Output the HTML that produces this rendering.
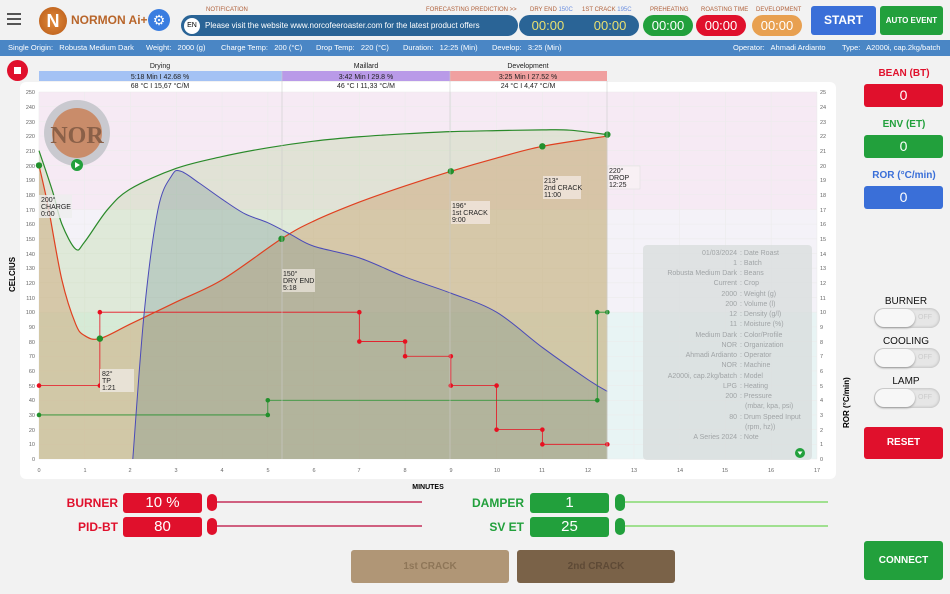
<!DOCTYPE html>
<html><head><meta charset="utf-8">
<style>
*{box-sizing:border-box;margin:0;padding:0}
body{width:950px;height:594px;overflow:hidden;background:#f2f2f2;font-family:"Liberation Sans",sans-serif;position:relative}
.a{position:absolute}
.pill{position:absolute;border-radius:12px;color:#fff;text-align:center}
.lbl{position:absolute;font-size:6px;color:#b0603a;text-align:center}
.box{position:absolute;border-radius:3px;color:#fff;text-align:center}
.tog{position:absolute;width:66px;height:20px;border-radius:10px;background:#e6e6e6;box-shadow:inset 0 0 3px #aaa}
.tog:before{content:"";position:absolute;left:1px;top:1px;width:40px;height:18px;border-radius:9px;background:#f7f7f7;box-shadow:0 1px 2px #999}
.tog:after{content:"OFF";position:absolute;right:8px;top:6px;font-size:7px;color:#ccc}
.rt{position:absolute;font-size:10px;color:#111;text-align:center;width:80px;left:866px}
.ib{position:absolute;top:40px;color:#fff;font-size:7.5px;line-height:16px;white-space:pre}
</style></head><body>
<!-- top bar -->
<div class="a" style="left:7px;top:13px;width:14px;height:2px;background:#555;box-shadow:0 5px 0 #555,0 10px 0 #555"></div>
<div class="a" style="left:39px;top:7px;width:28px;height:28px;border-radius:50%;background:radial-gradient(#e08a3a,#b85a18);color:#fff;font-weight:bold;font-size:18px;text-align:center;line-height:28px">N</div>
<div class="a" style="left:71px;top:13px;font-size:12px;font-weight:bold;color:#b8652a">NORMON Ai+</div>
<div class="a" style="left:148px;top:9px;width:22px;height:22px;border-radius:50%;background:#3a7de0;color:#fff;font-size:14px;text-align:center;line-height:22px">⚙</div>
<div class="lbl" style="left:206px;top:7px">NOTIFICATION</div>
<div class="lbl" style="left:426px;top:7px">FORECASTING PREDICTION &gt;&gt;</div>
<div class="lbl" style="left:530px;top:7px">DRY END <span style="color:#6a8ee0">150C</span></div>
<div class="lbl" style="left:582px;top:7px">1ST CRACK <span style="color:#6a8ee0">195C</span></div>
<div class="lbl" style="left:650px;top:7px">PREHEATING</div>
<div class="lbl" style="left:701px;top:7px">ROASTING TIME</div>
<div class="lbl" style="left:756px;top:7px">DEVELOPMENT</div>
<div class="pill" style="left:181px;top:15px;width:337px;height:21px;background:#2a6496;text-align:left;font-size:8px;line-height:21px;padding-left:24px">Please visit the website www.norcofeeroaster.com for the latest product offers</div>
<div class="a" style="left:184px;top:18px;width:16px;height:16px;border-radius:50%;background:#fff;font-size:7px;text-align:center;line-height:16px">EN</div>
<div class="pill" style="left:519px;top:15px;width:120px;height:21px;background:#2a6496;color:#e8e070;font-size:13px;line-height:21px;word-spacing:26px">00:00 00:00</div>
<div class="pill" style="left:643px;top:15px;width:50px;height:21px;background:#22a03c;font-size:13px;line-height:21px">00:00</div>
<div class="pill" style="left:696px;top:15px;width:50px;height:21px;background:#e0102c;font-size:13px;line-height:21px">00:00</div>
<div class="pill" style="left:752px;top:15px;width:50px;height:21px;background:#e8a050;font-size:13px;line-height:21px">00:00</div>
<div class="box" style="left:811px;top:6px;width:65px;height:29px;background:#3a6fd8;font-weight:bold;font-size:12px;line-height:29px">START</div>
<div class="box" style="left:880px;top:6px;width:63px;height:29px;background:#22a03c;font-weight:bold;font-size:8px;line-height:29px">AUTO EVENT</div>
<!-- info bar -->
<div class="a" style="left:0;top:40px;width:950px;height:16px;background:#4a86c5"></div>
<div class="ib" style="left:8px">Single Origin:   Robusta Medium Dark</div>
<div class="ib" style="left:146px">Weight:   2000 (g)</div>
<div class="ib" style="left:221px">Charge Temp:   200 (°C)</div>
<div class="ib" style="left:316px">Drop Temp:   220 (°C)</div>
<div class="ib" style="left:403px">Duration:   12:25 (Min)</div>
<div class="ib" style="left:492px">Develop:   3:25 (Min)</div>
<div class="ib" style="left:733px">Operator:   Ahmadi Ardianto</div>
<div class="ib" style="left:842px">Type:   A2000i, cap.2kg/batch</div>
<!-- stop -->
<div class="a" style="left:7px;top:60px;width:21px;height:21px;border-radius:50%;background:#e0102c"><div class="a" style="left:7px;top:7px;width:7px;height:7px;background:#fff"></div></div>
<!-- chart card -->
<div class="a" style="left:20px;top:82px;width:816px;height:397px;background:#fff;border-radius:6px"></div>
<svg class="a" style="left:0;top:0" width="950" height="594" font-family="Liberation Sans,sans-serif">
<g font-size="7" text-anchor="middle" fill="#222">
<text x="160" y="68">Drying</text><text x="366" y="68">Maillard</text><text x="528" y="68">Development</text></g>
<rect x="39" y="71" width="243" height="10" fill="#a4c2f4"/>
<rect x="282" y="71" width="168" height="10" fill="#b99ae8"/>
<rect x="450" y="71" width="157" height="10" fill="#f0a0a0"/>
<g font-size="7" text-anchor="middle" fill="#222">
<text x="160" y="79">5:18 Min  I  42.68 %</text><text x="366" y="79">3:42 Min  I  29.8 %</text><text x="528" y="79">3:25 Min  I  27.52 %</text>
<text x="160" y="88">68 °C  I  15,67 °C/M</text><text x="366" y="88">46 °C  I  11,33 °C/M</text><text x="528" y="88">24 °C  I  4,47 °C/M</text></g>
<rect x="39" y="92" width="778" height="118" fill="#f6eaf4"/>
<rect x="39" y="210" width="778" height="102" fill="#f4f2f8"/>
<rect x="39" y="312" width="778" height="147" fill="#e8f4f4"/>
<g stroke="#ececec" stroke-width="0.6" id="grid"></g>
<g id="plot"></g>
<line x1="282" y1="71" x2="282" y2="459" stroke="#ccc" stroke-width="0.6"/>
<line x1="450" y1="71" x2="450" y2="459" stroke="#ccc" stroke-width="0.6"/>
<line x1="607" y1="81" x2="607" y2="459" stroke="#ccc" stroke-width="0.6"/>
<g font-size="5.5" fill="#666" text-anchor="end">
<text x="35" y="461">0</text><text x="35" y="446">10</text><text x="35" y="432">20</text><text x="35" y="417">30</text><text x="35" y="402">40</text><text x="35" y="388">50</text><text x="35" y="373">60</text><text x="35" y="358">70</text><text x="35" y="344">80</text><text x="35" y="329">90</text><text x="35" y="314">100</text><text x="35" y="300">110</text><text x="35" y="285">120</text><text x="35" y="270">130</text><text x="35" y="256">140</text><text x="35" y="241">150</text><text x="35" y="226">160</text><text x="35" y="212">170</text><text x="35" y="197">180</text><text x="35" y="182">190</text><text x="35" y="168">200</text><text x="35" y="153">210</text><text x="35" y="138">220</text><text x="35" y="124">230</text><text x="35" y="109">240</text><text x="35" y="94">250</text></g>
<g font-size="5.5" fill="#666">
<text x="820" y="461">0</text><text x="820" y="446">1</text><text x="820" y="432">2</text><text x="820" y="417">3</text><text x="820" y="402">4</text><text x="820" y="388">5</text><text x="820" y="373">6</text><text x="820" y="358">7</text><text x="820" y="344">8</text><text x="820" y="329">9</text><text x="820" y="314">10</text><text x="820" y="300">11</text><text x="820" y="285">12</text><text x="820" y="270">13</text><text x="820" y="256">14</text><text x="820" y="241">15</text><text x="820" y="226">16</text><text x="820" y="212">17</text><text x="820" y="197">18</text><text x="820" y="182">19</text><text x="820" y="168">20</text><text x="820" y="153">21</text><text x="820" y="138">22</text><text x="820" y="124">23</text><text x="820" y="109">24</text><text x="820" y="94">25</text></g>
<g font-size="5.5" fill="#666" text-anchor="middle">
<text x="39" y="472">0</text><text x="85" y="472">1</text><text x="130" y="472">2</text><text x="176" y="472">3</text><text x="222" y="472">4</text><text x="268" y="472">5</text><text x="314" y="472">6</text><text x="359" y="472">7</text><text x="405" y="472">8</text><text x="451" y="472">9</text><text x="497" y="472">10</text><text x="542" y="472">11</text><text x="588" y="472">12</text><text x="634" y="472">13</text><text x="680" y="472">14</text><text x="725" y="472">15</text><text x="771" y="472">16</text><text x="817" y="472">17</text></g>
<circle cx="77" cy="133" r="33" fill="#c9c9cf"/><circle cx="77" cy="133" r="25" fill="#c98c6a"/>
<text x="77" y="143" font-size="24" font-weight="bold" fill="#8a6048" text-anchor="middle" font-family="Liberation Serif,serif">NOR</text>
<circle cx="77" cy="165" r="6" fill="#22a03c"/><path d="M75 162 L80 165 L75 168Z" fill="#fff"/>
<g font-size="7" fill="#222">
<rect x="39" y="195" width="33" height="23" fill="#eee" opacity="0.8"/><text x="41" y="202">200°</text><text x="41" y="209">CHARGE</text><text x="41" y="216">0:00</text>
<rect x="100" y="369" width="34" height="23" fill="#e8e2d6"/><text x="102" y="376">82°</text><text x="102" y="383">TP</text><text x="102" y="390">1:21</text>
<rect x="282" y="269" width="33" height="23" fill="#ddd8cc"/><text x="283" y="276">150°</text><text x="283" y="283">DRY END</text><text x="283" y="290">5:18</text>
<rect x="451" y="201" width="39" height="23" fill="#ece0d4"/><text x="452" y="208">196°</text><text x="452" y="215">1st CRACK</text><text x="452" y="222">9:00</text>
<rect x="543" y="176" width="38" height="23" fill="#ece0d4"/><text x="544" y="183">213°</text><text x="544" y="190">2nd CRACK</text><text x="544" y="197">11:00</text>
<rect x="608" y="166" width="32" height="23" fill="#f8f0f4" stroke="#ddd" stroke-width="0.5"/><text x="609" y="173">220°</text><text x="609" y="180">DROP</text><text x="609" y="187">12:25</text></g>
<rect x="643" y="245" width="169" height="215" rx="4" fill="#d8dcdc" opacity="0.75"/>
<g font-size="7" fill="#a0a4a6">
<g text-anchor="end">
<text x="737" y="255">01/03/2024</text><text x="737" y="265">1</text><text x="737" y="275">Robusta Medium Dark</text><text x="737" y="285">Current</text><text x="737" y="296">2000</text><text x="737" y="306">200</text><text x="737" y="316">12</text><text x="737" y="326">11</text><text x="737" y="337">Medium Dark</text><text x="737" y="347">NOR</text><text x="737" y="357">Ahmadi Ardianto</text><text x="737" y="367">NOR</text><text x="737" y="378">A2000i, cap.2kg/batch</text><text x="737" y="388">LPG</text><text x="737" y="398">200</text><text x="737" y="419">80</text><text x="737" y="439">A Series 2024</text></g>
<text x="740" y="255">:  Date Roast</text><text x="740" y="265">:  Batch</text><text x="740" y="275">:  Beans</text><text x="740" y="285">:  Crop</text><text x="740" y="296">:  Weight (g)</text><text x="740" y="306">:  Volume (l)</text><text x="740" y="316">:  Density (g/l)</text><text x="740" y="326">:  Moisture (%)</text><text x="740" y="337">:  Color/Profile</text><text x="740" y="347">:  Organization</text><text x="740" y="357">:  Operator</text><text x="740" y="367">:  Machine</text><text x="740" y="378">:  Model</text><text x="740" y="388">:  Heating</text><text x="740" y="398">:  Pressure</text><text x="745" y="408">(mbar, kpa, psi)</text><text x="740" y="419">:  Drum Speed Input</text><text x="745" y="429">(rpm, hz))</text><text x="740" y="439">:  Note</text></g>
<circle cx="800" cy="453" r="5" fill="#22a03c"/><path d="M797.5 451.5 L802.5 451.5 L800 455Z" fill="#fff"/>
<text x="0" y="0" font-size="8" font-weight="bold" transform="translate(15,292) rotate(-90)">CELCIUS</text>
<text x="0" y="0" font-size="8" font-weight="bold" transform="translate(849,428) rotate(-90)">ROR (°C/min)</text>
<text x="428" y="489" font-size="7" font-weight="bold" text-anchor="middle">MINUTES</text>
</svg>
<div class="a" style="left:864px;top:68px;width:80px;text-align:center;font-size:10px;font-weight:bold;color:#e0102c">BEAN (BT)</div>
<div class="box" style="left:864px;top:84px;width:79px;height:23px;background:#e0102c;font-size:14px;line-height:23px">0</div>
<div class="a" style="left:864px;top:119px;width:80px;text-align:center;font-size:10px;font-weight:bold;color:#22a03c">ENV (ET)</div>
<div class="box" style="left:864px;top:135px;width:79px;height:23px;background:#22a03c;font-size:14px;line-height:23px">0</div>
<div class="a" style="left:864px;top:170px;width:80px;text-align:center;font-size:10px;font-weight:bold;color:#3a6fd8">ROR (°C/min)</div>
<div class="box" style="left:864px;top:186px;width:79px;height:23px;background:#3a6fd8;font-size:14px;line-height:23px">0</div>
<div class="rt" style="top:296px">BURNER</div><div class="tog" style="left:874px;top:308px"></div>
<div class="rt" style="top:336px">COOLING</div><div class="tog" style="left:874px;top:348px"></div>
<div class="rt" style="top:376px">LAMP</div><div class="tog" style="left:874px;top:388px"></div>
<div class="box" style="left:864px;top:427px;width:79px;height:32px;background:#e0102c;font-weight:bold;font-size:10px;line-height:32px">RESET</div>
<div class="box" style="left:864px;top:541px;width:79px;height:39px;background:#22a03c;font-weight:bold;font-size:10px;line-height:39px">CONNECT</div>
<div class="a" style="left:40px;top:496px;width:78px;text-align:right;font-size:12px;font-weight:bold;color:#e0102c">BURNER</div>
<div class="box" style="left:123px;top:493px;width:79px;height:20px;background:#e0102c;font-size:15px;line-height:20px">10 %</div>
<div class="a" style="left:210px;top:501px;width:212px;height:2px;background:#d06080"></div>
<div class="a" style="left:207px;top:494px;width:10px;height:17px;border-radius:5px;background:#e0102c"></div>
<div class="a" style="left:40px;top:520px;width:78px;text-align:right;font-size:12px;font-weight:bold;color:#e0102c">PID-BT</div>
<div class="box" style="left:123px;top:517px;width:79px;height:20px;background:#e0102c;font-size:15px;line-height:20px">80</div>
<div class="a" style="left:210px;top:525px;width:212px;height:2px;background:#d06080"></div>
<div class="a" style="left:207px;top:518px;width:10px;height:17px;border-radius:5px;background:#e0102c"></div>
<div class="a" style="left:440px;top:496px;width:84px;text-align:right;font-size:12px;font-weight:bold;color:#22a03c">DAMPER</div>
<div class="box" style="left:530px;top:493px;width:79px;height:20px;background:#22a03c;font-size:15px;line-height:20px">1</div>
<div class="a" style="left:618px;top:501px;width:210px;height:2px;background:#a0e090"></div>
<div class="a" style="left:615px;top:494px;width:10px;height:17px;border-radius:5px;background:#22a03c"></div>
<div class="a" style="left:440px;top:520px;width:84px;text-align:right;font-size:12px;font-weight:bold;color:#22a03c">SV ET</div>
<div class="box" style="left:530px;top:517px;width:79px;height:20px;background:#22a03c;font-size:15px;line-height:20px">25</div>
<div class="a" style="left:618px;top:525px;width:210px;height:2px;background:#a0e090"></div>
<div class="a" style="left:615px;top:518px;width:10px;height:17px;border-radius:5px;background:#22a03c"></div>
<div class="box" style="left:351px;top:550px;width:158px;height:33px;background:#b09676;color:#8e7658;font-weight:bold;font-size:10px;line-height:33px">1st CRACK</div>
<div class="box" style="left:517px;top:550px;width:158px;height:33px;background:#7a6248;color:#5e4a36;font-weight:bold;font-size:10px;line-height:33px">2nd CRACK</div>
<script>
var X=t=>39+45.76*t, Y=v=>459-1.468*v;
function sm(p){var s="M"+X(p[0][0])+" "+Y(p[0][1]);for(var i=0;i<p.length-1;i++){var a=p[Math.max(i-1,0)],b=p[i],c=p[i+1],d=p[Math.min(i+2,p.length-1)];
var c1=[X(b[0])+(X(c[0])-X(a[0]))/6,Y(b[1])+(Y(c[1])-Y(a[1]))/6],c2=[X(c[0])-(X(d[0])-X(b[0]))/6,Y(c[1])-(Y(d[1])-Y(b[1]))/6];
s+=" C"+c1+" "+c2+" "+X(c[0])+" "+Y(c[1]);}return s;}
var ET=[[0,210],[0.3,182],[0.5,160],[0.8,143],[1,148],[1.5,170],[2,184],[3,198],[4,206],[5,212],[6,216.5],[7,219.5],[8,221.5],[9,223],[10,223.7],[11,224.2],[11.6,224],[12.42,221]];
var BT=[[0,200],[0.2,172],[0.5,122],[0.8,92],[1,84],[1.33,82],[2,92],[3,107],[4,122],[5.3,150],[6,162],[7,175],[8,186],[9,196],[10,205],[11,213],[12.42,220]];
var RO=[[2.05,0],[2.3,100],[2.6,170],[2.9,193],[3.1,196],[3.5,188],[4,177],[4.5,167],[5,161],[5.5,153],[6,145],[7,137],[8,124],[9,113],[10,100],[11,76],[12,54],[12.42,46]];
var base=" L"+X(12.42)+" "+Y(0)+" L";
var h="";
h+='<path d="'+sm(ET)+base+X(0)+' '+Y(0)+'Z" fill="rgb(150,200,110)" fill-opacity="0.22"/>';
h+='<path d="'+sm(BT)+base+X(0)+' '+Y(0)+'Z" fill="rgb(205,160,110)" fill-opacity="0.45"/>';
h+='<path d="'+sm(RO)+base+X(2.05)+' '+Y(0)+'Z" fill="rgb(70,110,120)" fill-opacity="0.22"/>';
function st(p,c){return '<polyline points="'+p.map(q=>X(q[0])+','+Y(q[1])).join(' ')+'" fill="none" stroke="'+c+'" stroke-width="0.8"/>'+p.map(q=>'<circle cx="'+X(q[0])+'" cy="'+Y(q[1])+'" r="2.3" fill="'+c+'"/>').join('');}
h+=st([[0,50],[1.33,50],[1.33,100],[7,100],[7,80],[8,80],[8,70],[9,70],[9,50],[10,50],[10,20],[11,20],[11,10],[12.42,10]],"#e81020");
h+=st([[0,30],[5,30],[5,40],[12.2,40],[12.2,100],[12.42,100]],"#22902c");
h+='<path d="'+sm(ET)+'" fill="none" stroke="#2a8a2a" stroke-width="1.2"/>';
h+='<path d="'+sm(BT)+'" fill="none" stroke="#e04020" stroke-width="1.2"/>';
h+='<path d="'+sm(RO)+'" fill="none" stroke="#4a4ab8" stroke-width="1"/>';
[[0,200],[1.33,82],[5.3,150],[9,196],[11,213],[12.42,221]].forEach(q=>h+='<circle cx="'+X(q[0])+'" cy="'+Y(q[1])+'" r="3.2" fill="#22902c"/>');
document.getElementById('plot').innerHTML=h;
var g="";for(var k=0;k<=25;k++)g+='<line x1="39" x2="817" y1="'+Y(k*10)+'" y2="'+Y(k*10)+'"/>';
for(var k=0;k<=17;k++)g+='<line y1="92" y2="459" x1="'+X(k)+'" x2="'+X(k)+'"/>';
document.getElementById('grid').innerHTML=g;
</script>
</body></html>
